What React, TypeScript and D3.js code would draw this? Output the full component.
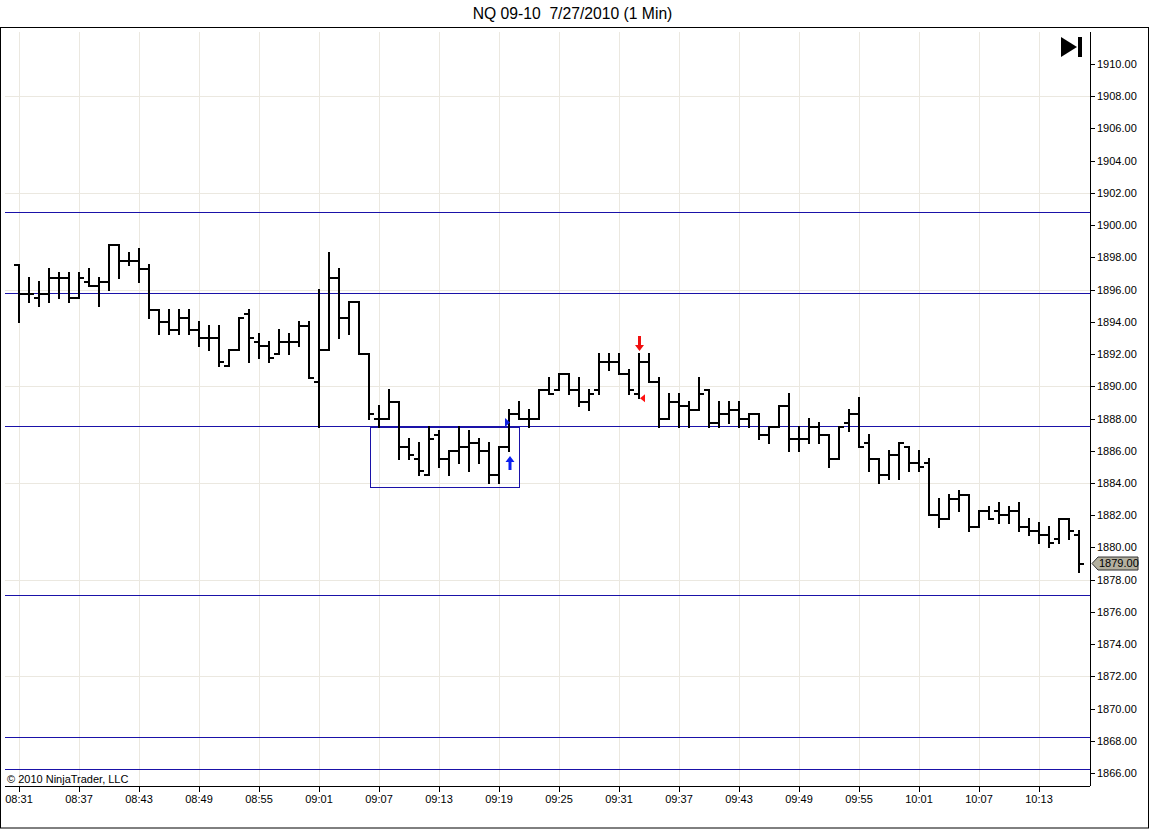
import * as d3 from 'd3';

// 1-minute OHLC bars, 08:31 .. 10:17
const OPENS = [
  1897.5, 1895.75, 1895.5, 1895.75, 1896.75, 1896.75, 1895.5, 1896.5, 1896.25, 1896.5,
  1898.75, 1897.75, 1897.75, 1897.25, 1894.75, 1894.0, 1893.5, 1894.25, 1893.5, 1893.0,
  1893.0, 1891.25, 1892.25, 1894.5, 1892.75, 1892.5, 1892.0, 1892.75, 1892.75, 1893.75,
  1890.25, 1892.25, 1896.75, 1894.25, 1895.25, 1892.0, 1888.0, 1888.0, 1889.0, 1886.25,
  1885.5, 1884.5, 1887.0, 1885.5, 1886.0, 1886.25, 1886.5, 1886.0, 1884.5, 1886.25,
  1888.25, 1888.0, 1888.0, 1889.75, 1889.75, 1890.75, 1889.75, 1889.0, 1889.75, 1891.5,
  1891.5, 1890.75, 1889.5, 1891.5, 1890.25, 1888.0, 1889.0, 1888.75, 1888.5, 1889.75,
  1887.75, 1888.25, 1888.5, 1888.0, 1888.25, 1887.0, 1887.5, 1888.75, 1886.75, 1886.75,
  1887.5, 1887.0, 1885.5, 1887.75, 1888.25, 1886.5, 1885.5, 1884.5, 1885.75, 1886.25,
  1885.25, 1885.25, 1882.0, 1881.75, 1883.0, 1883.25, 1881.25, 1882.25, 1882.25, 1882.0,
  1882.25, 1881.25, 1881.0, 1880.75, 1880.5, 1881.75, 1880.75,
];
const HIGHS = [
  1897.5, 1896.75, 1896.5, 1897.25, 1897.0, 1897.0, 1897.0, 1897.25, 1896.75, 1898.75,
  1898.75, 1898.25, 1898.5, 1897.5, 1894.75, 1894.75, 1894.75, 1894.75, 1894.0, 1893.75,
  1893.75, 1892.25, 1894.25, 1894.75, 1893.25, 1892.75, 1893.5, 1893.25, 1894.0, 1894.0,
  1896.0, 1898.25, 1897.25, 1895.25, 1895.25, 1892.0, 1888.75, 1889.75, 1889.0, 1886.75,
  1886.5, 1887.5, 1887.25, 1886.0, 1887.5, 1887.25, 1886.75, 1886.5, 1886.25, 1888.5,
  1889.0, 1888.5, 1889.75, 1890.5, 1890.75, 1890.75, 1890.5, 1889.75, 1892.0, 1892.0,
  1892.0, 1891.0, 1892.0, 1892.0, 1890.5, 1889.5, 1889.5, 1889.0, 1890.5, 1889.75,
  1889.0, 1889.0, 1889.0, 1888.25, 1888.25, 1887.5, 1888.75, 1889.5, 1887.5, 1888.0,
  1887.75, 1887.0, 1887.5, 1888.5, 1889.25, 1887.0, 1885.5, 1886.0, 1886.5, 1886.25,
  1886.0, 1885.5, 1883.0, 1883.25, 1883.5, 1883.25, 1882.25, 1882.5, 1882.75, 1882.5,
  1882.75, 1881.75, 1881.5, 1881.25, 1881.75, 1881.75, 1881.0,
];
const LOWS = [
  1894.0, 1895.25, 1895.0, 1895.25, 1895.5, 1895.25, 1895.5, 1896.25, 1895.0, 1896.0,
  1896.75, 1897.5, 1896.5, 1894.25, 1893.25, 1893.25, 1893.25, 1893.25, 1892.5, 1892.25,
  1891.25, 1891.25, 1892.25, 1891.5, 1891.75, 1891.5, 1892.0, 1892.0, 1892.5, 1890.5,
  1887.5, 1892.25, 1893.0, 1893.25, 1892.0, 1888.0, 1887.5, 1888.0, 1885.5, 1885.5,
  1884.5, 1884.5, 1885.0, 1884.5, 1885.25, 1884.75, 1885.25, 1884.0, 1884.0, 1886.0,
  1888.0, 1887.5, 1888.0, 1889.5, 1889.75, 1889.5, 1888.75, 1888.5, 1889.5, 1891.0,
  1890.75, 1889.5, 1889.25, 1890.25, 1887.5, 1888.0, 1887.5, 1887.5, 1888.5, 1887.5,
  1887.5, 1887.75, 1887.5, 1887.5, 1886.75, 1886.5, 1887.5, 1886.0, 1886.0, 1886.5,
  1886.5, 1885.0, 1885.5, 1887.25, 1886.25, 1884.75, 1884.0, 1884.25, 1884.25, 1884.75,
  1884.75, 1882.0, 1881.25, 1881.75, 1882.25, 1881.0, 1881.25, 1881.75, 1881.5, 1881.5,
  1881.0, 1880.75, 1880.25, 1880.0, 1880.25, 1880.5, 1878.5,
];
const CLOSES = [
  1895.75, 1895.75, 1895.75, 1896.75, 1896.75, 1895.5, 1896.75, 1896.25, 1896.5, 1898.75,
  1897.75, 1897.75, 1897.25, 1894.75, 1894.0, 1893.5, 1894.25, 1893.5, 1893.0, 1893.0,
  1891.5, 1892.25, 1894.25, 1893.0, 1892.5, 1891.75, 1892.75, 1892.75, 1893.75, 1890.5,
  1892.25, 1896.75, 1894.25, 1895.25, 1892.0, 1888.25, 1888.0, 1889.0, 1886.25, 1885.75,
  1884.75, 1886.75, 1885.5, 1886.0, 1886.25, 1886.5, 1886.0, 1884.5, 1886.25, 1888.25,
  1888.0, 1888.0, 1889.75, 1889.5, 1890.75, 1889.75, 1889.0, 1889.5, 1891.5, 1891.5,
  1890.75, 1889.75, 1891.5, 1890.25, 1888.0, 1889.0, 1888.75, 1888.5, 1889.5, 1887.75,
  1888.25, 1888.5, 1888.0, 1888.25, 1887.0, 1887.5, 1888.75, 1886.75, 1886.75, 1887.5,
  1887.0, 1885.5, 1887.5, 1888.25, 1886.25, 1885.5, 1884.5, 1885.75, 1886.5, 1885.25,
  1885.0, 1882.0, 1881.75, 1883.0, 1883.25, 1881.25, 1882.25, 1881.75, 1882.0, 1882.25,
  1881.25, 1881.0, 1880.75, 1880.25, 1881.75, 1881.0, 1879.0,
];

const TIME_LABELS = [
  '08:31', '08:37', '08:43', '08:49', '08:55', '09:01', '09:07', '09:13', '09:19',
  '09:25', '09:31', '09:37', '09:43', '09:49', '09:55', '10:01', '10:07', '10:13',
];
const PRICE_TICKS = [
  1866, 1868, 1870, 1872, 1874, 1876, 1878, 1880, 1882, 1884, 1886, 1888,
  1890, 1892, 1894, 1896, 1898, 1900, 1902, 1904, 1906, 1908, 1910,
];
const GRID_PRICES = [1872, 1878, 1884, 1890, 1896, 1902, 1908];
const LEVELS = [1900.81, 1895.79, 1887.53, 1877.05, 1868.23, 1866.25];
const LAST_PRICE = 1879.0;

// entry / exit markers
const BUY_BAR = 49;
const BUY_PRICE = 1887.75;
const SELL_BAR = 62;
const SELL_PRICE = 1889.25;
// drawn box: bar index span and price span
const BOX_BARS = [35.1, 50];
const BOX_PRICES = [1887.5, 1883.75];

const VW = 1152;
const VH = 829;
const PLOT = { left: 5, right: 1090, top: 32, bottom: 786 };
const FONT = '"Liberation Sans", Arial, Helvetica, sans-serif';
const LEVEL_BLUE = '#1a12a8';
const GRID = '#ebe8e0';

const x = d3.scaleLinear().domain([0, 106]).range([19, 1079]);
const y = d3.scaleLinear().domain([1866, 1910]).range([773, 64]);
const py = (p: number) => Math.round(y(p));

export default function App() {
  const bars = OPENS.map((o, i) => {
    const cx = x(i);
    const d = `M${cx},${py(HIGHS[i]) - 1}V${py(LOWS[i]) + 1}` +
      `M${cx - 5},${py(o)}H${cx}` +
      `M${cx},${py(CLOSES[i])}H${cx + 5}`;
    return <path key={i} d={d} stroke="#000" strokeWidth={2} fill="none" />;
  });

  const bx = x(BUY_BAR);
  const buyTipY = py(LOWS[BUY_BAR]) + 5;
  const sx = x(SELL_BAR);
  const sellTipY = py(HIGHS[SELL_BAR]) - 3;
  const ly = y(LAST_PRICE);

  return (
    <svg width={VW} height={VH} viewBox={`0 0 ${VW} ${VH}`}
      style={{ position: 'absolute', left: 0, top: 0, background: '#fff', display: 'block' }}
      fontFamily={FONT}>
      <rect x={0} y={0} width={VW} height={VH} fill="#fff" />

      <text x={572.5} y={19} textAnchor="middle" fontSize={15.7} fill="#000"
        style={{ whiteSpace: 'pre' }}>
        {'NQ 09-10  7/27/2010 (1 Min)'}
      </text>

      <rect x={0.5} y={27.5} width={1148} height={800.5} fill="none" stroke="#000" strokeWidth={1} />

      {/* grid */}
      {TIME_LABELS.map((t, k) => (
        <line key={`vg${t}`} x1={x(k * 6) + 0.5} x2={x(k * 6) + 0.5}
          y1={PLOT.top} y2={PLOT.bottom} stroke={GRID} strokeWidth={1} />
      ))}
      {GRID_PRICES.map(p => (
        <line key={`hg${p}`} x1={PLOT.left} x2={PLOT.right}
          y1={py(p) + 0.5} y2={py(p) + 0.5} stroke={GRID} strokeWidth={1} />
      ))}

      {/* pivot levels */}
      {LEVELS.map(p => (
        <line key={`lv${p}`} x1={PLOT.left} x2={PLOT.right}
          y1={py(p) + 0.5} y2={py(p) + 0.5} stroke={LEVEL_BLUE} strokeWidth={1.2}
          shapeRendering="crispEdges" />
      ))}

      <rect x={Math.round(x(BOX_BARS[0])) + 0.5} y={py(BOX_PRICES[0]) + 0.5}
        width={Math.round(x(BOX_BARS[1]) - x(BOX_BARS[0]))}
        height={py(BOX_PRICES[1]) - py(BOX_PRICES[0])}
        fill="none" stroke={LEVEL_BLUE} strokeWidth={1} />

      {bars}

      {/* execution markers */}
      <path d={`M${bx - 4},${y(BUY_PRICE) - 4.5}L${bx + 1},${y(BUY_PRICE)}L${bx - 4},${y(BUY_PRICE) + 4.5}Z`}
        fill="#1020e0" />
      <path d={`M${sx + 6},${y(SELL_PRICE) - 4}L${sx + 1},${y(SELL_PRICE)}L${sx + 6},${y(SELL_PRICE) + 4}Z`}
        fill="#ff1010" />

      {/* buy arrow */}
      <path d={`M${bx + 1},${buyTipY}L${bx + 5.5},${buyTipY + 6}H${bx + 2.5}V${buyTipY + 14}` +
        `H${bx - 0.5}V${buyTipY + 6}H${bx - 3.5}Z`} fill="#0a1ef0" />
      {/* sell arrow */}
      <path d={`M${sx + 0.5},${sellTipY}L${sx + 5},${sellTipY - 6}H${sx + 2}V${sellTipY - 15}` +
        `H${sx - 1}V${sellTipY - 6}H${sx - 4}Z`} fill="#f01010" />

      {/* go-to-end icon */}
      <path d="M1061,37L1077,47L1061,57Z" fill="#000" />
      <rect x={1078} y={37} width={4} height={20} fill="#000" />

      {/* axes */}
      <line x1={PLOT.right + 0.5} x2={PLOT.right + 0.5} y1={PLOT.top} y2={PLOT.bottom}
        stroke="#000" strokeWidth={1} />
      <line x1={PLOT.left} x2={PLOT.right} y1={PLOT.bottom + 0.5} y2={PLOT.bottom + 0.5}
        stroke="#000" strokeWidth={1} />

      {PRICE_TICKS.map(p => (
        <g key={`yt${p}`}>
          <line x1={PLOT.right} x2={PLOT.right + 5} y1={py(p) + 0.5} y2={py(p) + 0.5} stroke="#000" />
          <text x={PLOT.right + 7} y={py(p)} dy="0.35em" fontSize={11} fill="#000">
            {d3.format('.2f')(p)}
          </text>
        </g>
      ))}

      {TIME_LABELS.map((t, k) => (
        <g key={`xt${t}`}>
          <line x1={x(k * 6) + 0.5} x2={x(k * 6) + 0.5} y1={PLOT.bottom} y2={PLOT.bottom + 6} stroke="#000" />
          <text x={x(k * 6)} y={803} textAnchor="middle" fontSize={11} fill="#000">{t}</text>
        </g>
      ))}

      {/* last price tag */}
      <path d={`M${PLOT.right + 2},${ly}L${PLOT.right + 8},${ly - 6.5}H${PLOT.right + 48}V${ly + 6.5}H${PLOT.right + 8}Z`}
        fill="#b3b09f" stroke="#333" strokeWidth={1} />
      <text x={PLOT.right + 9} y={ly} dy="0.35em" fontSize={11} fill="#000">
        {d3.format('.2f')(LAST_PRICE)}
      </text>

      <text x={7} y={782.5} fontSize={11} fill="#000">© 2010 NinjaTrader, LLC</text>
    </svg>
  );
}
